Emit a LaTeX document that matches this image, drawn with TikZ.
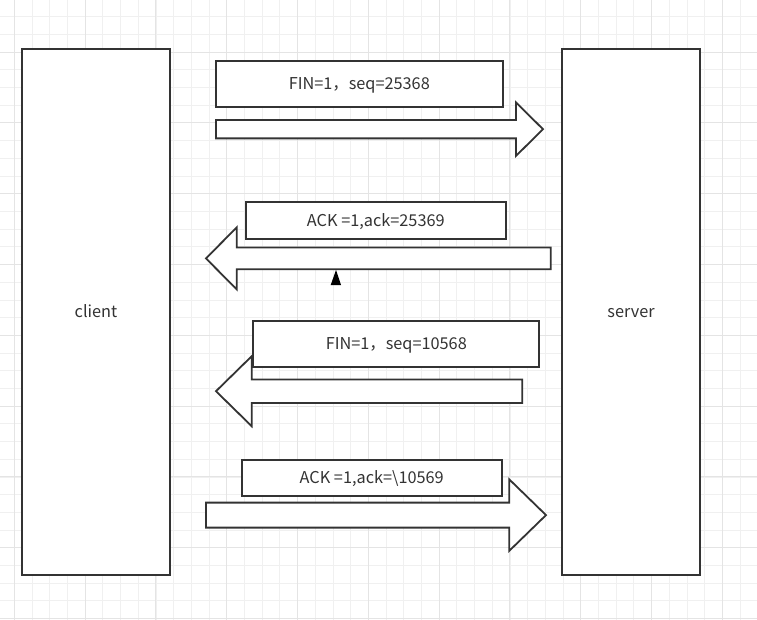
\documentclass[tikz,border=0pt]{standalone}
\usepackage{fontspec}
\setmainfont{Noto Sans CJK SC}
\definecolor{ink}{HTML}{333333}
\definecolor{gridminor}{HTML}{F0F0F0}
\definecolor{gridmajor}{HTML}{E4E4E4}
\def\gridsep{17.7}
\newcommand\blockarrow[7]{
    % name, tail x, head x, tip x, middle y, half shaft, half head
    \draw[blockarrow] (#2,#5-#6) -- (#3,#5-#6) -- (#3,#5-#7) -- (#4,#5) coordinate (#1)
        -- (#3,#5+#7) -- (#3,#5+#6) -- (#2,#5+#6) -- cycle;
}

\begin{document}
\begin{tikzpicture}[
    x=1pt, y=-1pt,
    font=\fontsize{16.3}{19}\selectfont, text=ink,
    minorline/.style={draw=gridminor, line width=0.8},
    majorline/.style={draw=gridmajor, line width=0.9},
    host/.style={rectangle, draw=ink, fill=white, line width=1.8, text height=11, text depth=0.5},
    msg/.style={rectangle, draw=ink, fill=white, line width=1.8, inner sep=0, text height=11, text depth=0.5},
    blockarrow/.style={draw=ink, fill=white, line width=1.8, line join=miter}
  ]
  \useasboundingbox[fill=white] (0,0) rectangle (757,620);

  % Background grid
  \foreach \i in {0,...,42}
      \draw[minorline] ({14.3+\i*\gridsep},0) -- ({14.3+\i*\gridsep},620);
  \foreach \j in {0,...,35}
      \draw[minorline] (0,{-1+\j*\gridsep}) -- (757,{-1+\j*\gridsep});
  \foreach \i in {0,...,10}
      \draw[majorline] ({14.3+4*\i*\gridsep},0) -- ({14.3+4*\i*\gridsep},620);
  \foreach \j in {3,7,...,35}
      \draw[majorline] (0,{-1+\j*\gridsep}) -- (757,{-1+\j*\gridsep});

  % Hosts
  \node[host, minimum width=148, minimum height=526] (client) at (96,312) {client};
  \node[host, minimum width=138, minimum height=526] (server) at (631,312) {server};

  % Arrows between the hosts
  \blockarrow{finA-tip}{216}{516}{543}{129.2}{9.2}{26.7}
  \blockarrow{ackA-tip}{550.7}{236.7}{206}{258.4}{10.8}{31}
  \blockarrow{finB-tip}{522.3}{251.7}{216}{391.2}{11.7}{35}
  \blockarrow{ackB-tip}{206}{509.3}{546}{515.1}{12.5}{35.7}

  % Messages
  \node[msg, minimum width=286.7, minimum height=46.3] (finA) at (359.3,84.2) {FIN=1，seq=25368};
  \node[msg, minimum width=260.3, minimum height=37] (ackA) at (375.8,220.8) {ACK =1,ack=25369};
  \node[msg, minimum width=286, minimum height=46.3] (finB) at (396.3,344.2) {FIN=1，seq=10568};
  \node[msg, minimum width=260, minimum height=36] (ackB) at (371.7,478) {ACK =1,ack=\textbackslash10569};

  % Marker under the ACK arrow
  \fill[black] (336,270) -- (341,285) -- (330.7,285) -- cycle;
\end{tikzpicture}
\end{document}
